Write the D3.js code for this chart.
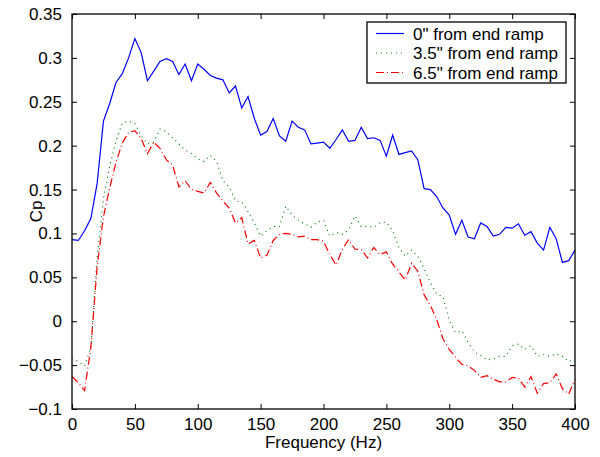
<!DOCTYPE html>
<html>
<head>
<meta charset="utf-8">
<script src="https://cdn.jsdelivr.net/npm/d3@7"></script>
<style>
  body { margin: 0; background: #fff; }
  svg { font-family: "Liberation Sans", Arial, sans-serif; }
  .axis path, .axis line { stroke: #000; }
  .axis text { fill: #000; font-size: 17px; }
</style>
</head>
<body>
<svg id="chart" width="600" height="457"></svg>
<script>
// frequency in Hz, every 5 Hz from 0 to 400
const freq = d3.range(0, 401, 5);

const seriesNames = ['0" from end ramp', '3.5" from end ramp', '6.5" from end ramp'];

const cp0 = [
  0.093, 0.092, 0.103, 0.117, 0.157, 0.228, 0.248, 0.272, 0.282, 0.300,
  0.322, 0.306, 0.274, 0.285, 0.296, 0.299, 0.296, 0.281, 0.293, 0.274,
  0.293, 0.287, 0.280, 0.277, 0.275, 0.260, 0.268, 0.243, 0.256, 0.231,
  0.212, 0.216, 0.231, 0.211, 0.205, 0.228, 0.221, 0.218, 0.202, 0.203,
  0.204, 0.197, 0.207, 0.218, 0.205, 0.206, 0.221, 0.208, 0.209, 0.206,
  0.188, 0.212, 0.190, 0.192, 0.194, 0.184, 0.151, 0.150, 0.142, 0.129,
  0.121, 0.099, 0.115, 0.096, 0.094, 0.112, 0.108, 0.097, 0.099, 0.107,
  0.106, 0.111, 0.098, 0.102, 0.089, 0.081, 0.107, 0.094, 0.067, 0.069,
  0.081
];

const cp35 = [
  -0.042, -0.046, -0.051, -0.030, 0.072, 0.140, 0.177, 0.205, 0.226, 0.228,
  0.225, 0.211, 0.202, 0.204, 0.219, 0.216, 0.209, 0.202, 0.195, 0.191,
  0.185, 0.182, 0.189, 0.182, 0.160, 0.153, 0.137, 0.136, 0.125, 0.112,
  0.097, 0.103, 0.108, 0.108, 0.131, 0.121, 0.115, 0.111, 0.107, 0.113,
  0.115, 0.097, 0.101, 0.099, 0.104, 0.120, 0.108, 0.108, 0.107, 0.112,
  0.113, 0.103, 0.084, 0.074, 0.081, 0.074, 0.060, 0.044, 0.031, 0.028,
  0.001, -0.013, -0.011, -0.024, -0.035, -0.039, -0.044, -0.043, -0.040, -0.040,
  -0.028, -0.026, -0.032, -0.028, -0.040, -0.038, -0.040, -0.037, -0.040, -0.046,
  -0.043
];

const cp65 = [
  -0.063, -0.070, -0.079, -0.030, 0.062, 0.119, 0.152, 0.181, 0.203, 0.215,
  0.217, 0.208, 0.191, 0.204, 0.197, 0.184, 0.178, 0.153, 0.160, 0.150,
  0.148, 0.146, 0.158, 0.146, 0.137, 0.129, 0.112, 0.118, 0.088, 0.092,
  0.072, 0.075, 0.092, 0.099, 0.100, 0.099, 0.096, 0.097, 0.093, 0.093,
  0.091, 0.076, 0.064, 0.082, 0.093, 0.082, 0.082, 0.072, 0.084, 0.076,
  0.079, 0.065, 0.056, 0.047, 0.066, 0.057, 0.030, 0.018, 0.002, -0.020,
  -0.032, -0.041, -0.049, -0.051, -0.056, -0.064, -0.062, -0.066, -0.069, -0.069,
  -0.064, -0.065, -0.075, -0.063, -0.082, -0.071, -0.070, -0.060, -0.077, -0.083,
  -0.066
];

const xTicks = [0, 50, 100, 150, 200, 250, 300, 350, 400];
const yTicks = [-0.1, -0.05, 0, 0.05, 0.1, 0.15, 0.2, 0.25, 0.3, 0.35];

const colors = ["#0000ff", "#008000", "#ff0000"];
const dashes = [null, "1,4", "8,3,1,3"];

function makeLineChart(id) {
  const margin = { top: 14, right: 25, bottom: 48, left: 72 };
  const svg = d3.select(`svg#${id}`),
    width = +svg.attr("width") - margin.left - margin.right,
    height = +svg.attr("height") - margin.top - margin.bottom,
    g = svg.append("g").attr("transform", `translate(${margin.left}, ${margin.top})`);

  const x = d3.scaleLinear().domain([0, 400]).range([0, width]);
  const y = d3.scaleLinear().domain([-0.1, 0.35]).range([height, 0]);
  const fmt = d3.format("~g");

  // axes, ticks pointing inwards, mirrored on top and right
  g.append("g")
    .attr("class", "axis")
    .attr("transform", `translate(0, ${height})`)
    .call(d3.axisBottom(x).tickValues(xTicks).tickSizeInner(-5).tickSizeOuter(0).tickPadding(9));

  g.append("g")
    .attr("class", "axis")
    .call(d3.axisTop(x).tickValues(xTicks).tickSizeInner(-5).tickSizeOuter(0).tickFormat(""));

  g.append("g")
    .attr("class", "axis")
    .call(d3.axisLeft(y).tickValues(yTicks).tickSizeInner(-5).tickSizeOuter(0).tickPadding(10).tickFormat(fmt));

  g.append("g")
    .attr("class", "axis")
    .attr("transform", `translate(${width}, 0)`)
    .call(d3.axisRight(y).tickValues(yTicks).tickSizeInner(-5).tickSizeOuter(0).tickFormat(""));

  g.selectAll(".axis .domain").remove();

  const line = d3.line()
    .x((d, i) => x(freq[i]))
    .y(d => y(d));

  [cp0, cp35, cp65].forEach((s, i) => {
    g.append("path")
      .datum(s)
      .attr("fill", "none")
      .attr("stroke", colors[i])
      .attr("stroke-width", 1.2)
      .attr("stroke-dasharray", dashes[i])
      .attr("d", line);
  });

  // box
  g.append("rect")
    .attr("x", 0)
    .attr("y", 0)
    .attr("width", width)
    .attr("height", height)
    .attr("fill", "none")
    .attr("stroke", "#000")
    .attr("stroke-width", 1.3);

  // legend
  const lg = g.append("g").attr("transform", `translate(${367 - margin.left}, ${22 - margin.top})`);
  lg.append("rect")
    .attr("width", 199)
    .attr("height", 61)
    .attr("fill", "#fff")
    .attr("stroke", "#000")
    .attr("stroke-width", 1.3);

  const item = lg.selectAll(".legend")
    .data(seriesNames)
    .enter().append("g")
    .attr("class", "legend")
    .attr("transform", (d, i) => `translate(0, ${11.5 + i * 19.5})`);

  item.append("line")
    .attr("x1", 9)
    .attr("x2", 37)
    .attr("stroke", (d, i) => colors[i])
    .attr("stroke-width", 1.2)
    .attr("stroke-dasharray", (d, i) => dashes[i]);

  item.append("text")
    .attr("x", 46)
    .attr("dy", "0.36em")
    .style("font-size", "17px")
    .text(d => d);

  svg.append("text")
    .attr("x", margin.left + width / 2)
    .attr("y", 448)
    .style("text-anchor", "middle")
    .style("font-size", "17px")
    .text("Frequency (Hz)");

  svg.append("text")
    .attr("transform", `translate(42, ${margin.top + height / 2}) rotate(-90)`)
    .style("text-anchor", "middle")
    .style("font-size", "17px")
    .text("Cp");
}

makeLineChart("chart");
</script>
</body>
</html>
